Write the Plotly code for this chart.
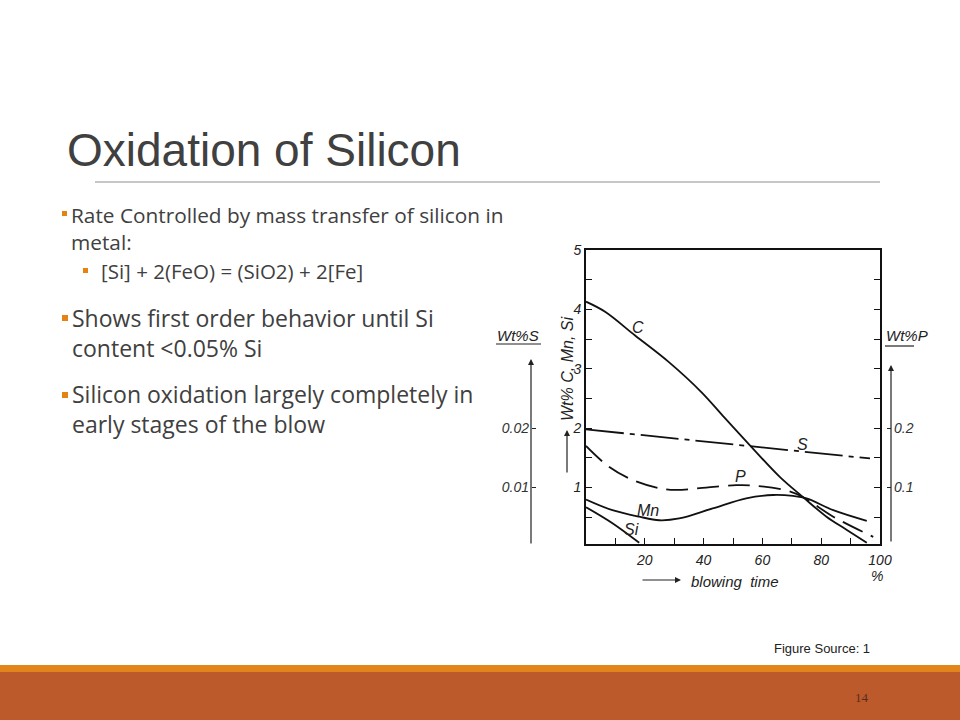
import plotly.graph_objects as go

# ---------------- data ----------------
blow_C = [0, 6.5, 16.7, 28, 39.4, 46.7, 55.6, 65.9, 73.8, 81.8, 88.6, 95.5]
wt_C = [4.13, 3.96, 3.56, 3.12, 2.60, 2.20, 1.72, 1.18, 0.84, 0.51, 0.29, 0.07]

blow_Mn = [0, 9, 18.1, 24.9, 31.7, 43.1, 54.5, 63.6, 70.4, 75, 84.1, 95.5]
wt_Mn = [0.80, 0.62, 0.51, 0.45, 0.48, 0.65, 0.82, 0.875, 0.86, 0.82, 0.62, 0.44]

blow_Si = [0, 9, 18.1]
wt_Si = [0.67, 0.40, 0.07]

blow_P = [0, 7.8, 15.8, 24.9, 30.6, 40.9, 51.1, 57.9, 68.2, 73.8, 84.1, 97.7]
wt_P = [0.170, 0.135, 0.113, 0.099, 0.096, 0.100, 0.104, 0.103, 0.095, 0.084, 0.051, 0.017]

blow_S = [0, 96.6]
wt_S = [0.0198, 0.0149]

x_ticks = [20, 40, 60, 80, 100]
y_ticks = [1, 2, 3, 4, 5]
s_ticks = [0.01, 0.02]
p_ticks = [0.1, 0.2]

W, H = 960, 720
def px(x):
    return x / W
def py(y):
    return 1 - y / H

TXT = "#404040"
LFONT = "Liberation Sans"
ITAL = dict(family=LFONT, size=14, color="#222222", style="italic")
BODY = "Open Sans"

fig = go.Figure()
line_kw = dict(color="#111111", width=1.8, shape="spline", smoothing=1.0)
fig.add_trace(go.Scatter(x=blow_C, y=wt_C, mode="lines", line=line_kw, name="C"))
fig.add_trace(go.Scatter(x=blow_Mn, y=wt_Mn, mode="lines", line=line_kw, name="Mn"))
fig.add_trace(go.Scatter(x=blow_Si, y=wt_Si, mode="lines", line=line_kw, name="Si"))
fig.add_trace(go.Scatter(x=blow_P, y=wt_P, mode="lines", yaxis="y3",
                         line=dict(color="#111111", width=1.8, shape="spline",
                                   smoothing=1.0, dash="22px,9px"), name="P"))
fig.add_trace(go.Scatter(x=blow_S, y=wt_S, mode="lines", yaxis="y2",
                         line=dict(color="#111111", width=1.8,
                                   dash="38px,6px,5px,6px"), name="S"))

fig.update_layout(
    width=W, height=H, autosize=False,
    margin=dict(l=0, r=0, t=0, b=0, pad=0, autoexpand=False),
    paper_bgcolor="white", plot_bgcolor="white",
    showlegend=False,
    xaxis=dict(domain=[px(586), px(880)], range=[0, 100], automargin=False,
               tickvals=x_ticks, ticks="inside", ticklen=6, tickwidth=1.3,
               tickcolor="#111", minor=dict(dtick=10, ticks="inside", ticklen=6,
                                            tickwidth=1.3, tickcolor="#111"),
               showline=True, linecolor="#111", linewidth=1.8, mirror=True,
               showgrid=False, zeroline=False, tickfont=ITAL, ticklabelstandoff=2),
    yaxis=dict(domain=[py(544), py(250)], range=[0.05, 5], automargin=False,
               tickvals=y_ticks, ticks="inside", ticklen=6, tickwidth=1.3,
               tickcolor="#111", minor=dict(dtick=0.5, ticks="inside", ticklen=6,
                                            tickwidth=1.3, tickcolor="#111"),
               showline=True, linecolor="#111", linewidth=1.8, mirror="ticks",
               showgrid=False, zeroline=False, tickfont=ITAL, ticklabelstandoff=0),
    yaxis2=dict(overlaying="y", anchor="free", position=px(531), side="left",
                automargin=False,
                range=[0.0005, 0.05], tickvals=s_ticks, ticktext=["0.01", "0.02"],
                ticks="inside", ticklen=4, tickcolor="#222", showline=False,
                showgrid=False, zeroline=False, ticklabelstandoff=2,
                tickfont=dict(family=LFONT, size=14, color="#333", style="italic")),
    yaxis3=dict(overlaying="y", anchor="free", position=px(891), side="right",
                automargin=False,
                range=[0.005, 0.5], tickvals=p_ticks, ticktext=["0.1", "0.2"],
                ticks="inside", ticklen=4, tickcolor="#222", showline=False,
                showgrid=False, zeroline=False, ticklabelstandoff=2,
                tickfont=dict(family=LFONT, size=14, color="#333", style="italic")),
)

ann = []
def ptext(x, y, text, font, xanchor="left", yanchor="middle", angle=0):
    ann.append(dict(x=px(x), y=py(y), xref="paper", yref="paper", text=text,
                    showarrow=False, xanchor=xanchor, yanchor=yanchor, align="left",
                    font=font, textangle=angle))

def parrow(hx, hy, tx, ty):
    ann.append(dict(x=px(hx), y=py(hy), xref="paper", yref="paper", text="",
                    showarrow=True, ax=tx - hx, ay=ty - hy, arrowhead=2,
                    arrowsize=1, arrowwidth=1.2, arrowcolor="#222"))

# slide title and bullet text
ptext(65, 150, "Oxidation of Silicon", dict(family=LFONT, size=46, color=TXT))
ptext(69, 228, "Rate Controlled by mass transfer of silicon in<br>metal:",
      dict(family=BODY, size=20.8, color=TXT))
ptext(99, 271, "[Si] + 2(FeO) = (SiO2) + 2[Fe]", dict(family=BODY, size=20.5, color=TXT))
ptext(70, 333, "Shows first order behavior until Si<br>content &lt;0.05% Si",
      dict(family=BODY, size=23, color=TXT))
ptext(70, 409, "Silicon oxidation largely completely in<br>early stages of the blow",
      dict(family=BODY, size=23, color=TXT))
ptext(872, 648, "Figure Source: 1", dict(family=LFONT, size=13, color="#222"), xanchor="right")
ptext(862, 697, "14", dict(family="Liberation Serif", size=13, color="#5a2c1a"), xanchor="center")

# chart texts
ptext(568, 369, "Wt% C, Mn, Si", dict(family=LFONT, size=16, color="#222", style="italic"),
      xanchor="center", angle=-90)
ptext(735, 581, "blowing  time", dict(family=LFONT, size=15, color="#222", style="italic"), xanchor="center")
ptext(877, 576, "%", ITAL, xanchor="center")
ptext(495, 335, "Wt%S", dict(family=LFONT, size=15, color="#222", style="italic"))
ptext(884, 335, "Wt%P", dict(family=LFONT, size=15, color="#222", style="italic"))

# curve labels in data coordinates
for lx, ly, t in [(17.7, 3.70, "C"), (73.7, 1.73, "S"), (52.6, 1.18, "P"),
                  (21.2, 0.62, "Mn"), (15.4, 0.29, "Si")]:
    ann.append(dict(x=lx, y=ly, xref="x", yref="y", text=t, showarrow=False,
                    font=dict(family=LFONT, size=16, color="#222", style="italic")))

parrow(531, 359, 531, 545)
parrow(891, 365, 891, 543)
parrow(567, 430, 567, 474)
parrow(681, 580, 641, 580)
fig.update_layout(annotations=ann)

shapes = []
def rect(x0, y0, x1, y1, color):
    shapes.append(dict(type="rect", xref="paper", yref="paper", x0=px(x0), x1=px(x1),
                       y0=py(y1), y1=py(y0), fillcolor=color, line=dict(width=0),
                       layer="below"))
def hline(x0, x1, y, color, w=1):
    shapes.append(dict(type="line", xref="paper", yref="paper", x0=px(x0), x1=px(x1),
                       y0=py(y), y1=py(y), line=dict(color=color, width=w)))

rect(0, 665, 960, 672, "#E2851A")
rect(0, 672, 960, 720, "#BD5A2B")
hline(95, 880, 182, "#8f8f8f", 1)
hline(496, 541, 344, "#222", 1.2)
hline(885, 914, 346, "#222", 1.2)
# bullets
rect(62, 211, 67, 216, "#E48312")
rect(83, 268, 88, 273, "#E48312")
rect(62, 315, 68, 321, "#E48312")
rect(62, 392, 68, 398, "#E48312")
fig.update_layout(shapes=shapes)

fig.write_html("out.html", config={"displayModeBar": False, "responsive": False},
               post_script="document.documentElement.style.overflow='hidden';"
                           "document.body.style.margin='0';document.body.style.padding='0';"
                           "document.body.style.overflow='hidden';")
